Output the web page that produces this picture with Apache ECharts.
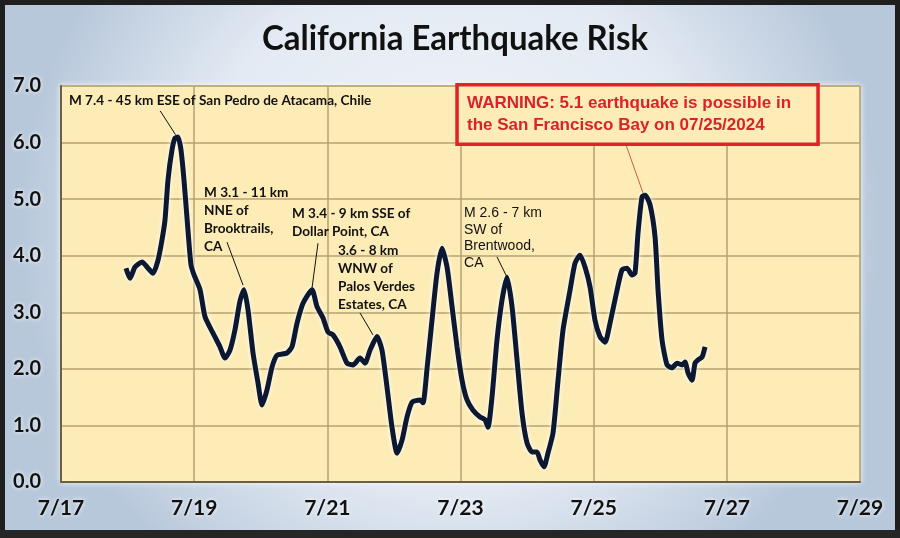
<!DOCTYPE html>
<html>
<head>
<meta charset="utf-8">
<script src="https://cdn.jsdelivr.net/npm/echarts@6/dist/echarts.min.js"></script>
<style>
html,body{margin:0;padding:0;background:#1a1a1a;}
#main{width:900px;height:538px;}
</style>
</head>
<body>
<div id="main"></div>
<script>
// ---- data (x = days since 7/17 00:00) ----
const days = [0.976,1.036,1.111,1.217,1.307,1.382,1.457,1.517,1.562,1.607,1.667,1.712,1.757,1.802,1.847,1.907,1.952,1.998,2.088,2.163,2.283,2.388,2.463,2.538,2.613,2.688,2.749,2.809,2.884,2.959,3.019,3.094,3.169,3.244,3.394,3.469,3.545,3.635,3.770,3.845,3.935,4.010,4.085,4.190,4.296,4.386,4.491,4.566,4.641,4.746,4.821,4.896,4.971,5.047,5.122,5.197,5.272,5.392,5.437,5.497,5.572,5.647,5.722,5.798,5.873,5.948,6.023,6.098,6.188,6.293,6.368,6.413,6.473,6.548,6.624,6.699,6.774,6.849,6.924,6.999,7.074,7.149,7.194,7.254,7.314,7.390,7.465,7.540,7.645,7.720,7.795,7.870,7.945,8.020,8.095,8.171,8.246,8.351,8.426,8.501,8.576,8.621,8.666,8.726,8.772,8.847,8.922,8.967,9.027,9.102,9.177,9.252,9.327,9.372,9.417,9.477,9.522,9.567,9.628,9.673];
const risk = [3.78,3.60,3.80,3.89,3.78,3.69,3.92,4.28,4.63,5.34,5.87,6.08,6.10,5.87,5.34,4.45,3.84,3.66,3.40,2.92,2.63,2.39,2.19,2.33,2.69,3.20,3.40,3.04,2.28,1.75,1.36,1.63,2.03,2.24,2.28,2.39,2.81,3.16,3.40,3.10,2.90,2.65,2.60,2.39,2.10,2.07,2.19,2.10,2.33,2.57,2.33,1.68,0.97,0.51,0.74,1.15,1.41,1.45,1.40,2.00,2.86,3.69,4.13,3.80,3.10,2.39,1.80,1.45,1.27,1.15,1.10,0.97,1.50,2.51,3.22,3.62,3.10,2.16,1.22,0.69,0.53,0.53,0.39,0.27,0.51,0.87,1.80,2.69,3.39,3.87,4.01,3.80,3.45,2.86,2.57,2.47,2.81,3.39,3.75,3.78,3.66,3.69,4.40,5.04,5.07,4.90,4.33,3.39,2.51,2.07,2.02,2.10,2.07,2.12,1.93,1.80,2.10,2.16,2.21,2.39];
const xTickLabels = ['7/17','7/19','7/21','7/23','7/25','7/27','7/29'];
const yTickLabels = ['0.0','1.0','2.0','3.0','4.0','5.0','6.0','7.0'];
const titleText = 'California Earthquake Risk';
const notes = [
  {text:'M 7.4 - 45 km ESE of San Pedro de Atacama, Chile', at:[0.12,6.75], from:[1.49,6.56], to:[1.72,6.14], kind:'bold'},
  {text:'M 3.1 - 11 km\nNNE of\nBrooktrails,\nCA', at:[2.148,5.11], from:[2.493,4.24], to:[2.734,3.48], kind:'bold'},
  {text:'M 3.4 - 9 km SSE of\nDollar Point, CA', at:[3.469,4.755], from:[3.86,4.22], to:[3.77,3.43], kind:'bold'},
  {text:'3.6 - 8 km\nWNW of\nPalos Verdes\nEstates, CA', at:[4.16,4.10], from:[4.49,2.99], to:[4.686,2.60], kind:'bold'},
  {text:'M 2.6 - 7 km\nSW of\nBrentwood,\nCA', at:[6.053,4.755], from:[6.548,3.98], to:[6.699,3.62], kind:'plain'}
];
const warning = {text:'WARNING: 5.1 earthquake is possible in\nthe San Francisco Bay on 07/25/2024', box:[[5.948,7.02],[11.37,5.97]], at:[6.098,6.70], from:[8.486,5.96], to:[8.741,5.11]};

const points = days.map((d,i)=>[d,risk[i]]);

const chart = echarts.init(document.getElementById('main'), null, {renderer:'canvas'});
const glow = {textShadowColor:'#ffffff', textShadowBlur:4};
chart.setOption({
  animation:false,
  backgroundColor:{type:'radial',x:0.5,y:0.42,r:0.8,colorStops:[
    {offset:0,color:'#f3f6fa'},{offset:0.6,color:'#e3eaf3'},{offset:1,color:'#b8c8db'}]},
  grid:{left:61,right:40,top:86,bottom:56,show:true,backgroundColor:'#fdecb6',borderColor:'#c9b684',borderWidth:1,
        shadowColor:'rgba(255,255,255,0.9)',shadowBlur:6},
  xAxis:{type:'value',min:0,max:12,interval:2,
    axisLine:{show:true,lineStyle:{color:'#6e5f3e',width:2}},
    axisTick:{show:false},
    splitLine:{show:true,lineStyle:{color:'#b5a271',width:1.5}},
    axisLabel:{formatter:v=>xTickLabels[Math.round(v/2)],color:'#111',fontFamily:'Lato',fontWeight:'bold',fontSize:21,margin:16,...glow}},
  yAxis:{type:'value',min:0,max:7,interval:1,
    axisLine:{show:true,lineStyle:{color:'#6e5f3e',width:2}},
    axisTick:{show:false},
    splitLine:{show:true,lineStyle:{color:'#b5a271',width:1.5}},
    axisLabel:{formatter:v=>yTickLabels[Math.round(v)],color:'#111',fontFamily:'Lato',fontWeight:'bold',fontSize:20,margin:20,...glow}},
  series:[{type:'line',data:points,showSymbol:false,smooth:0.2,
    lineStyle:{color:'#0c1832',width:5,shadowColor:'rgba(255,255,255,0.95)',shadowBlur:5}}]
});

function px(p){return chart.convertToPixel({gridIndex:0},p);}
const g = [];
g.push({type:'text',x:455,y:39,scaleX:0.97,style:{text:titleText,fontFamily:'Lato',fontWeight:'bold',fontSize:34,fill:'#111',align:'center',verticalAlign:'middle',shadowColor:'#fff',shadowBlur:4}});
notes.forEach(n=>{
  const a=px(n.at), f=px(n.from), t=px(n.to);
  const bold = n.kind==='bold';
  const lh = bold?18:16.7;
  g.push({type:'text',x:a[0],y:a[1]-lh/2,scaleX:bold?0.97:1,z:10,style:{text:n.text,
    fontFamily: bold?'Lato':'Liberation Sans', fontWeight: bold?'bold':'normal', fontSize:14,
    fill:'#111',align:'left',verticalAlign:'top',lineHeight:lh}});
  g.push({type:'line',z:10,shape:{x1:f[0],y1:f[1],x2:t[0],y2:t[1]},style:{stroke:'#111',lineWidth:1}});
});
{
  const b0=px(warning.box[0]), b1=px(warning.box[1]), a=px(warning.at), f=px(warning.from), t=px(warning.to);
  g.push({type:'rect',z:10,shape:{x:b0[0],y:b0[1],width:b1[0]-b0[0],height:b1[1]-b0[1]},style:{fill:'#fdecb6',stroke:'#e0222a',lineWidth:3.5}});
  g.push({type:'text',z:11,x:a[0],y:a[1]-11,style:{text:warning.text,fontFamily:'Liberation Sans',fontWeight:'bold',fontSize:17,fill:'#d9232b',align:'left',verticalAlign:'top',lineHeight:22}});
  g.push({type:'line',z:10,shape:{x1:f[0],y1:f[1],x2:t[0],y2:t[1]},style:{stroke:'#c0392b',lineWidth:0.8}});
}
g.push({type:'rect',z:20,shape:{x:0,y:0,width:900,height:538},style:{fill:'none',stroke:'#1e1e1e',lineWidth:10}});
g.push({type:'rect',z:20,shape:{x:0,y:530,width:900,height:8},style:{fill:'#262626'}});
chart.setOption({graphic:g});
</script>
</body>
</html>
